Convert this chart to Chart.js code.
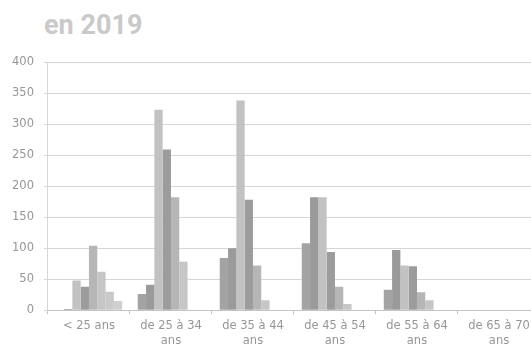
<!DOCTYPE html>
<html lang="fr">
<head>
<meta charset="utf-8">
<title>en 2019</title>
<script src="https://cdn.jsdelivr.net/npm/chart.js@4/dist/chart.umd.min.js"></script>
<style>
  html, body { margin: 0; padding: 0; background: #fff; overflow: hidden; }
  #wrap { position: relative; width: 531px; height: 345px; overflow: hidden; }
  #title {
    position: absolute; left: 44px; top: 12px;
    font: bold 27px Roboto, "Open Sans", sans-serif; line-height: 1;
    color: #c9c9c9;
  }
  #chart { position: absolute; left: 0; top: 0; }
</style>
</head>
<body>
<div id="wrap">
  <div id="title">en 2019</div>
  <canvas id="chart" width="540" height="353"></canvas>
</div>
<script>
const ageGroups = [
  "< 25 ans",
  ["de 25 à 34", "ans"],
  ["de 35 à 44", "ans"],
  ["de 45 à 54", "ans"],
  ["de 55 à 64", "ans"],
  ["de 65 à 70", "ans"],
];

// one array per series, values per age group
const serie1 = [0, 26, 84, 108, 33, 0];
const serie2 = [2, 41, 100, 182, 97, 1];
const serie3 = [48, 323, 338, 182, 72, 1];
const serie4 = [38, 259, 178, 94, 71, 1];
const serie5 = [104, 182, 72, 38, 29, 1];
const serie6 = [62, 78, 16, 10, 16, 0];
const serie7 = [30, 0, 0, 0, 0, 0];
const serie8 = [15, 0, 0, 0, 0, 0];

const yTicks = [0, 50, 100, 150, 200, 250, 300, 350, 400];

const series = [serie1, serie2, serie3, serie4, serie5, serie6, serie7, serie8];
const greys = ["#a3a3a3", "#9a9a9a", "#c2c2c2", "#9c9c9c", "#b6b6b6", "#c6c6c6", "#c9c9c9", "#d0d0d0"];

const labelFont = { family: "'DejaVu Sans', Verdana, sans-serif", size: 11.5, lineHeight: 1.25 };

new Chart(document.getElementById("chart"), {
  type: "bar",
  data: {
    labels: ageGroups,
    datasets: series.map((values, i) => ({
      data: values,
      backgroundColor: greys[i],
      borderWidth: 0,
      categoryPercentage: 0.81,
      barPercentage: 1,
    })),
  },
  options: {
    responsive: false,
    animation: false,
    layout: { padding: { top: 62, left: 2, right: 0, bottom: 0 } },
    plugins: {
      legend: { display: false },
      tooltip: { enabled: false },
    },
    scales: {
      x: {
        grid: {
          display: true,
          drawOnChartArea: false,
          drawTicks: true,
          tickLength: 4,
          color: "#c4c4c4",
        },
        border: { color: "#c4c4c4" },
        ticks: {
          color: "#969696",
          font: labelFont,
          maxRotation: 0,
          autoSkip: false,
          padding: 5,
        },
      },
      y: {
        min: yTicks[0],
        max: yTicks[yTicks.length - 1],
        afterBuildTicks: (axis) => {
          axis.ticks = yTicks.map((v) => ({ value: v }));
        },
        grid: {
          color: "#d6d6d6",
          tickLength: 4,
        },
        border: { color: "#d6d6d6" },
        ticks: {
          color: "#969696",
          font: labelFont,
          padding: 10,
        },
      },
    },
  },
});
</script>
</body>
</html>
